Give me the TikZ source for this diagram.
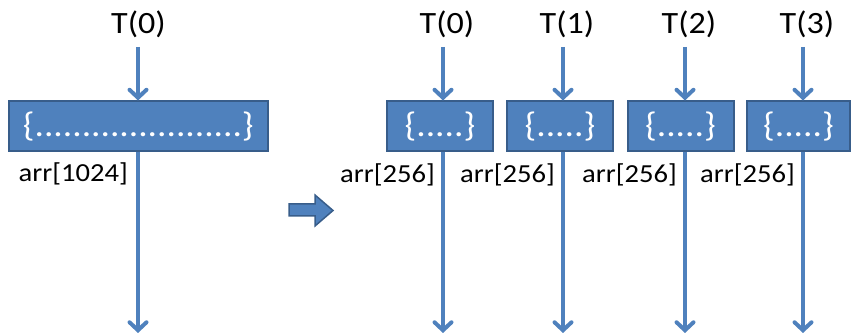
\documentclass[tikz,border=0pt]{standalone}
\usepackage{fontspec}
\setmainfont{Carlito}[FakeStretch=1.1]
\usetikzlibrary{arrows.meta}
\definecolor{boxblue}{HTML}{4F81BD}
\definecolor{boxedge}{HTML}{385D8A}

\begin{document}
\begin{tikzpicture}[x=1pt,y=-1pt,
  block/.style={draw=boxedge,fill=boxblue,line width=2pt,minimum height=50pt,
                inner sep=0pt,text=white,font=\fontsize{34}{38}\selectfont},
  thread/.style={font=\fontsize{31}{35}\selectfont,inner sep=0pt},
  lbl/.style={font=\fontsize{26}{30}\selectfont,inner sep=0pt,anchor=east},
  flow/.style={draw=boxblue,line width=4pt,
               -{Straight Barb[length=8pt,width=17pt,line cap=round]}}
]
\useasboundingbox (0,0) rectangle (851,336);

% single array handled by one thread
\node[thread] (t) at (138.5,24) {T(0)};
\node[block,minimum width=259pt] (b) at (138.5,126.5)
  {\{......................\}};
\node[lbl] (l) at (128,174) {arr[1024]};
\coordinate (s) at (138,47);
\coordinate (e) at (138,333);
\draw[flow] (s) -- (s |- b.north);
\draw[flow] (e |- b.south) -- (e);

% split into four chunks, one thread each
\draw[draw=boxedge,fill=boxblue,line width=1.5pt,line join=miter]
  (289,204) -- (315,204) -- (315,195) -- (333,210.5) -- (315,226)
  -- (315,216) -- (289,216) -- cycle;

\foreach \i/\bx/\bw/\lx in {0/440/106/443, 1/560/106/563, 2/680.5/106/685, 3/798.5/103/803}{
  \node[thread] (t\i) at (\lx+4,24) {T(\i)};
  \node[block,minimum width=\bw pt] (b\i) at (\bx,126.5) {\{.....\}};
  \node[lbl] (l\i) at (\lx-8,175) {arr[256]};
  \coordinate (s\i) at (\lx,47);
  \coordinate (e\i) at (\lx,333);
  \draw[flow] (s\i) -- (s\i |- b\i.north);
  \draw[flow] (e\i |- b\i.south) -- (e\i);
}
\end{tikzpicture}
\end{document}
